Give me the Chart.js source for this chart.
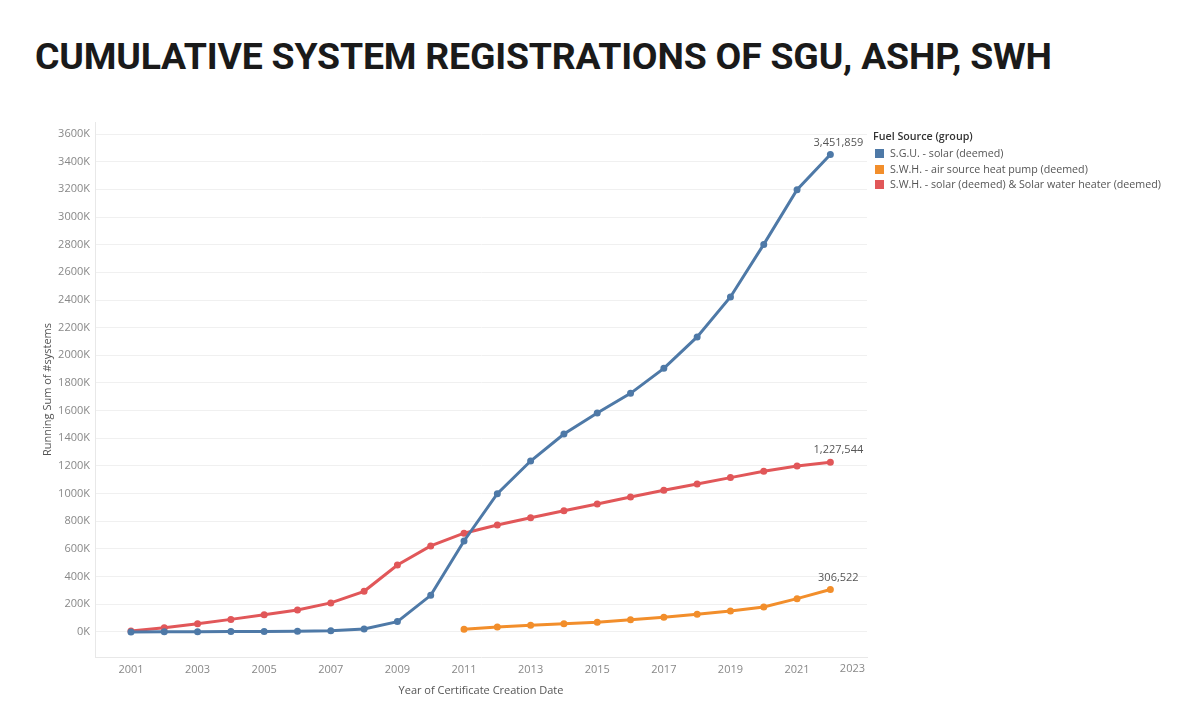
<!DOCTYPE html>
<html>
<head>
<meta charset="utf-8">
<script src="https://cdn.jsdelivr.net/npm/chart.js@4.4.1/dist/chart.umd.min.js"></script>
<style>
  html, body { margin:0; padding:0; background:#fff; }
  body { width:1200px; height:707px; position:relative; overflow:hidden; font-family:"Open Sans", sans-serif; }
  #title { position:absolute; left:35px; top:34px; font-family:Roboto, sans-serif; font-weight:700; font-size:37.4px; color:#1a1a1a; letter-spacing:-0.2px; white-space:nowrap; }
  #wrap { position:absolute; left:0; top:0; width:880px; height:707px; }
  #legend { position:absolute; left:873px; top:129px; font-size:10.7px; color:#555; }
  #legend .t { font-weight:600; color:#333; margin-bottom:2px; height:15px; line-height:15px; }
  #legend .i { height:15.5px; line-height:15.5px; white-space:nowrap; }
  #legend .s { display:inline-block; width:9px; height:9px; margin:0 6px 0 2px; vertical-align:-1px; }
</style>
</head>
<body>
<div id="title">CUMULATIVE SYSTEM REGISTRATIONS OF SGU, ASHP, SWH</div>
<div id="wrap"><canvas id="c"></canvas></div>
<div id="legend"></div>
<script>
const years = [2001,2002,2003,2004,2005,2006,2007,2008,2009,2010,2011,2012,2013,2014,2015,2016,2017,2018,2019,2020,2021,2022];
const seriesNames = ["S.G.U. - solar (deemed)", "S.W.H. - air source heat pump (deemed)", "S.W.H. - solar (deemed) & Solar water heater (deemed)"];
const sguSolar = [500,1000,1500,2500,4000,5000,8000,22000,75000,265000,658000,1000000,1236000,1431000,1583000,1725000,1906000,2133000,2422000,2802000,3198000,3451859];
const swhAshp = [null,null,null,null,null,null,null,null,null,null,19000,36000,48000,60000,70000,89000,106000,128000,152000,181000,241000,306522];
const swhSolar = [7000,31000,60000,91000,125000,159000,210000,294000,484000,622000,714000,773000,826000,877000,925000,976000,1024000,1070000,1116000,1162000,1200000,1227544];
const colors = ["#4e79a7", "#f28e2b", "#e15759"];
const xTicks = [2001,2003,2005,2007,2009,2011,2013,2015,2017,2019,2021,2023];
const yTicks = [0,200000,400000,600000,800000,1000000,1200000,1400000,1600000,1800000,2000000,2200000,2400000,2600000,2800000,3000000,3200000,3400000,3600000];

function pts(vals){ return years.map((y,i)=>({x:y, y:vals[i]})).filter(p=>p.y!==null); }

const allSeries = [sguSolar, swhAshp, swhSolar];
const datasets = allSeries.map((vals,i)=>({
  label: seriesNames[i],
  data: pts(vals),
  borderColor: colors[i],
  backgroundColor: colors[i],
  borderWidth: 3,
  pointRadius: 2,
  pointHoverRadius: 2,
  tension: 0,
  order: i===0 ? 0 : (i===2 ? 1 : 2)
}));

const tickFont = { family: '"Open Sans", sans-serif', size: 11 };
const lastTick = xTicks[xTicks.length-1];

const endLabels = {
  id: 'endLabels',
  afterDatasetsDraw(chart) {
    const ctx = chart.ctx;
    ctx.save();
    ctx.font = '11px "Open Sans", sans-serif';
    ctx.fillStyle = '#555';
    ctx.textAlign = 'center';
    ctx.textBaseline = 'middle';
    chart.data.datasets.forEach((ds, i) => {
      const meta = chart.getDatasetMeta(i);
      const last = meta.data[meta.data.length-1];
      const v = ds.data[ds.data.length-1].y;
      ctx.fillText(v.toLocaleString('en-US'), last.x + 8, last.y - 12);
    });
    // last x tick label, kept inside the plot like the original
    const xs = chart.scales.x;
    ctx.fillStyle = '#888';
    const txt = String(lastTick);
    const w = ctx.measureText(txt).width;
    const px = Math.min(xs.getPixelForValue(lastTick), chart.chartArea.right - w/2 - 2);
    ctx.fillText(txt, px, xs.top + 12);
    ctx.restore();
  }
};

new Chart(document.getElementById('c'), {
  type: 'line',
  data: { datasets },
  plugins: [endLabels],
  options: {
    responsive: true,
    maintainAspectRatio: false,
    animation: false,
    layout: { padding: { left: 41, right: 13, top: 122, bottom: 10 } },
    plugins: { legend: { display: false }, tooltip: { enabled: false } },
    scales: {
      x: {
        type: 'linear',
        min: 1999.92,
        max: 2023.1,
        afterBuildTicks(s){ s.ticks = xTicks.map(v=>({value:v})); },
        afterFit(s){ s.height = 40; },
        ticks: { color: '#888', font: tickFont, padding: 6, callback: v => (v===lastTick ? '' : String(v)), autoSkip: false, maxRotation: 0 },
        grid: { display: false, drawTicks: false },
        border: { display: true, color: '#e8e8e8' },
        title: { display: true, text: 'Year of Certificate Creation Date', color: '#555', font: tickFont, padding: { top: 4, bottom: 0 } }
      },
      y: {
        type: 'linear',
        min: -181000,
        max: 3687000,
        afterBuildTicks(s){ s.ticks = yTicks.map(v=>({value:v})); },
        afterFit(s){ s.width = 54; },
        ticks: { color: '#888', font: tickFont, padding: 5, callback: v => (v/1000) + 'K' },
        grid: { color: '#f0f0f0', drawTicks: false },
        border: { display: true, color: '#e8e8e8' },
        title: { display: true, text: 'Running Sum of #systems', color: '#555', font: tickFont, padding: 0 }
      }
    }
  }
});

const lg = document.getElementById('legend');
let h = '<div class="t">Fuel Source (group)</div>';
seriesNames.forEach((n,i)=>{ h += '<div class="i"><span class="s" style="background:'+colors[i]+'"></span>'+n+'</div>'; });
lg.innerHTML = h;
</script>
</body>
</html>
